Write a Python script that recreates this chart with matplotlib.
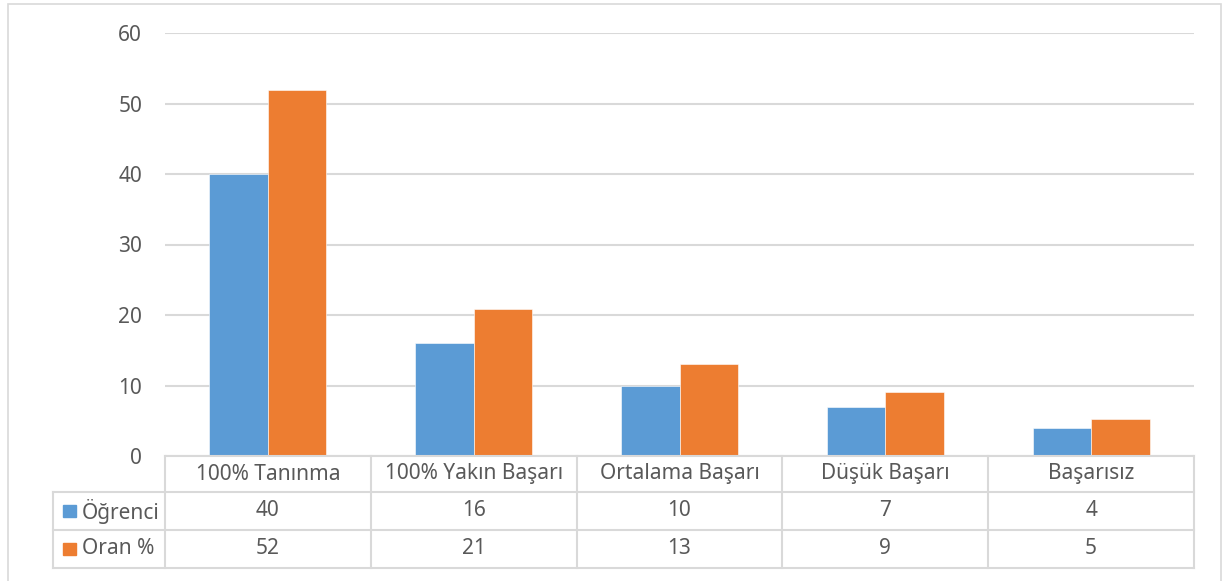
import matplotlib.pyplot as plt
from matplotlib.patches import Rectangle
import numpy as np

categories = ['100% Tanınma', '100% Yakın Başarı', 'Ortalama Başarı', 'Düşük Başarı', 'Başarısız']
ogrenci = [40, 16, 10, 7, 4]
oran = [51.9, 20.8, 13.0, 9.1, 5.2]
series_names = ['Öğrenci', 'Oran %']
yticks = [0, 10, 20, 30, 40, 50, 60]

W, H = 1223, 581
BLUE = '#5B9BD5'
ORANGE = '#ED7D31'
GRID = '#d9d9d9'
TXT = '#595959'
FS = 15
plt.rcParams['font.family'] = ['Noto Sans', 'DejaVu Sans']

fig = plt.figure(figsize=(W / 100, H / 100), dpi=100)

# outer chart frame
fig.patches.append(Rectangle((8 / W, -0.01), (1221 - 8) / W, (H - 4) / H + 0.01,
                             transform=fig.transFigure, fill=False, edgecolor=GRID, lw=1.2))

# main plot area
ax = fig.add_axes([165 / W, (H - 456) / H, (1194 - 165) / W, (456 - 33) / H])
x = np.arange(len(categories))
bw = 0.284
ax.bar(x - bw / 2, ogrenci, bw, color=BLUE, edgecolor='white', lw=0.4, zorder=3)
ax.bar(x + bw / 2, oran, bw, color=ORANGE, edgecolor='white', lw=0.4, zorder=3)
ax.set_xlim(-0.5, len(categories) - 0.5)
ax.set_ylim(0, 60)
ax.set_yticks(yticks)
ax.grid(axis='y', color=GRID, lw=1.5, zorder=0)
ax.tick_params(axis='y', length=0, pad=16.5, labelsize=FS, labelcolor=TXT)
ax.set_xticks([])
for s in ax.spines.values():
    s.set_visible(False)

# data table below the axis
tax = fig.add_axes([165 / W, (H - 568) / H, (1194 - 165) / W, (568 - 456) / H])
tax.set_xlim(-0.5, len(categories) - 0.5)
tax.set_ylim(3, 0)
tax.axis('off')
left = -0.5 - (165 - 53) / (1194 - 165) * len(categories)
row_h = [0, 36 / 112, 74 / 112, 1]
ys = [r * 3 for r in row_h]
kw = dict(color=GRID, lw=1.5, clip_on=False)
tax.plot([-0.5, 4.5], [ys[0], ys[0]], **kw)
for yv in ys[1:]:
    tax.plot([left, 4.5], [yv, yv], **kw)
for xv in np.arange(-0.5, 5, 1):
    tax.plot([xv, xv], [ys[0], ys[3]], **kw)
tax.plot([left, left], [ys[1], ys[3]], **kw)

tk = dict(ha='center', va='center', fontsize=FS, color=TXT)
for i, c in enumerate(categories):
    tax.text(i, (ys[0] + ys[1]) / 2, c, **tk)
    tax.text(i, (ys[1] + ys[2]) / 2, str(ogrenci[i]), **tk)
    tax.text(i, (ys[2] + ys[3]) / 2, str(round(oran[i])), **tk)

sw = 0.063
for r, (name, col) in enumerate(zip(series_names, [BLUE, ORANGE])):
    yc = (ys[r + 1] + ys[r + 2]) / 2
    tax.add_patch(Rectangle((left + 0.049, yc - 0.17), sw, 0.34, color=col, clip_on=False))
    tax.text(left + 0.14, yc, name, ha='left', va='center', fontsize=FS, color=TXT)

fig.savefig('out.png', dpi=100)
